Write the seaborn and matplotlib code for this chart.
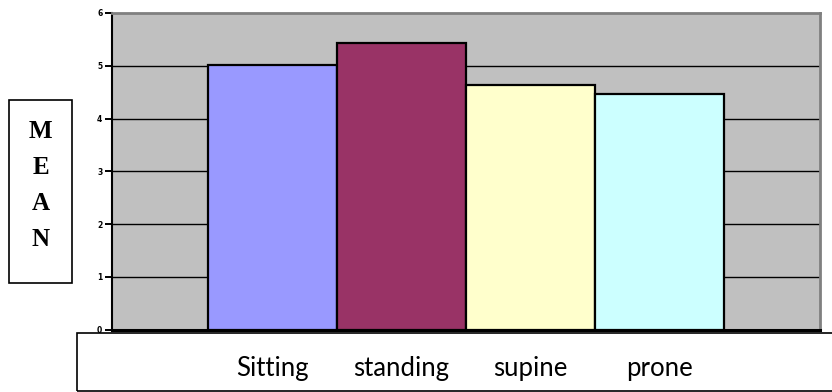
import matplotlib
matplotlib.use("Agg")
import matplotlib.pyplot as plt
from matplotlib.patches import Rectangle
import seaborn as sns
import pandas as pd

categories = ["Sitting", "standing", "supine", "prone"]
means = [5.01, 5.43, 4.63, 4.46]
bar_colors = ["#9999FF", "#993366", "#FFFFCC", "#CCFFFF"]
y_ticks = [0, 1, 2, 3, 4, 5, 6]
ylabel_letters = ["M", "E", "A", "N"]

W, H = 832, 392
fig = plt.figure(figsize=(W / 100, H / 100), dpi=100)
fig.patch.set_facecolor("white")

# plot area in pixels
left, right, top, bottom = 112, 820, 13, 329.5
ax = fig.add_axes([left / W, (H - bottom) / H, (right - left) / W, (bottom - top) / H])
ax.set_facecolor("#C0C0C0")

df = pd.DataFrame({"position": categories, "mean": means})
sns.barplot(data=df, x="position", y="mean", hue="position", palette=bar_colors,
            saturation=1, width=1.0, edgecolor="black", linewidth=1.6,
            legend=False, ax=ax, zorder=3)

ax.set_xlim(-1.244, 4.244)
ax.set_ylim(0, 6)
ax.set_yticks(y_ticks)
ax.set_yticklabels([str(t) for t in y_ticks], fontsize=5.5, fontweight="bold",
                   family="DejaVu Sans")
ax.tick_params(axis="y", length=5, width=1.4, pad=2, color="black")
for t in y_ticks[1:-1]:
    ax.axhline(t, color="black", linewidth=1.0, zorder=1)

ax.set_xticks(range(len(categories)))
ax.set_xticklabels(categories, fontsize=18.5, family=["Lato", "DejaVu Sans"])
ax.tick_params(axis="x", length=0, pad=19)
ax.set_xlabel("")
ax.set_ylabel("")

ax.spines["left"].set_color("black")
ax.spines["left"].set_linewidth(1.5)
ax.spines["bottom"].set_color("black")
ax.spines["bottom"].set_linewidth(2.2)
ax.spines["top"].set_color("#808080")
ax.spines["top"].set_linewidth(2)
ax.spines["right"].set_color("#808080")
ax.spines["right"].set_linewidth(2)

# MEAN box
bx0, bx1, by0, by1 = 9, 72, 100, 283
fig.patches.append(Rectangle((bx0 / W, (H - by1) / H), (bx1 - bx0) / W, (by1 - by0) / H,
                             transform=fig.transFigure, fill=False,
                             edgecolor="black", linewidth=1.2))
for i, letter in enumerate(ylabel_letters):
    fig.text(40.5 / W, (H - (132 + 36 * i)) / H, letter, ha="center", va="center",
             fontsize=18, fontweight="bold", family="Liberation Serif")

# category box
cx0, cx1, cy0, cy1 = 77, 840, 333, 390.5
fig.patches.append(Rectangle((cx0 / W, (H - cy1) / H), (cx1 - cx0) / W, (cy1 - cy0) / H,
                             transform=fig.transFigure, fill=False,
                             edgecolor="black", linewidth=1.2, zorder=0))

fig.savefig("out.png", dpi=100)
